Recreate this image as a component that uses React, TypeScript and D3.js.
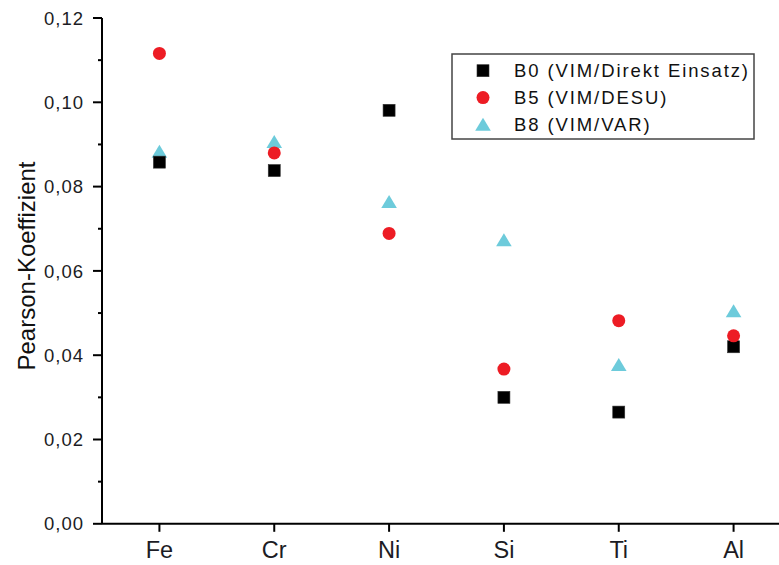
import React from "react";
import * as d3 from "d3";

const categories = ["Fe", "Cr", "Ni", "Si", "Ti", "Al"];
const seriesNames = ["B0 (VIM/Direkt Einsatz)", "B5 (VIM/DESU)", "B8 (VIM/VAR)"];
const b0 = [0.0858, 0.0838, 0.0981, 0.0300, 0.0265, 0.0420];
const b5 = [0.1116, 0.0880, 0.0689, 0.0367, 0.0482, 0.0446];
const b8 = [0.0883, 0.0906, 0.0764, 0.0673, 0.0377, 0.0505];
const yTicks = [0, 0.02, 0.04, 0.06, 0.08, 0.1, 0.12];
const yMinor = [0.01, 0.03, 0.05, 0.07, 0.09, 0.11];

const W = 779;
const H = 565;
const FONT = "'Liberation Sans', Arial, sans-serif";

const x = d3.scaleLinear().domain([0.5, 6.5]).range([102, 791]);
const y = d3.scaleLinear().domain([0, 0.12]).range([523.8, 18]);

const fmt = (v: number) => v.toFixed(2).replace(".", ",");

function Marker({ kind, cx, cy }: { kind: number; cx: number; cy: number }) {
  if (kind === 0) {
    return <rect x={cx - 6} y={cy - 6} width={12} height={12} fill="#000" stroke="#333" strokeWidth={0.6} />;
  }
  if (kind === 1) {
    return <circle cx={cx} cy={cy} r={6.5} fill="#ed1c24" />;
  }
  const p = d3.path();
  p.moveTo(cx, cy - 6.8);
  p.lineTo(cx + 7.8, cy + 6.2);
  p.lineTo(cx - 7.8, cy + 6.2);
  p.closePath();
  return <path d={p.toString()} fill="#6dcbdb" />;
}

export default function App() {
  const series = [b0, b5, b8];
  return (
    <svg width={W} height={H} style={{ position: "absolute", left: 0, top: 0, background: "#fff" }} fontFamily={FONT}>
      <rect width={W} height={H} fill="#fff" />
      {/* Y axis */}
      <line x1={102} x2={102} y1={y(0.12)} y2={y(0)} stroke="#000" strokeWidth={2} />
      {yTicks.map((t) => (
        <g key={"yt" + t}>
          <line x1={93} x2={102} y1={y(t)} y2={y(t)} stroke="#000" strokeWidth={2} />
          <text x={84} y={y(t)} dy="0.36em" textAnchor="end" fontSize={18.5} letterSpacing={1} fill="#1c1c24">
            {fmt(t)}
          </text>
        </g>
      ))}
      {yMinor.map((t) => (
        <line key={"ym" + t} x1={98} x2={102} y1={y(t)} y2={y(t)} stroke="#000" strokeWidth={2} />
      ))}
      {/* X axis */}
      <line x1={102} x2={W} y1={y(0)} y2={y(0)} stroke="#000" strokeWidth={2} />
      {categories.map((c, i) => (
        <g key={c}>
          <line x1={x(i + 1)} x2={x(i + 1)} y1={y(0)} y2={y(0) + 8} stroke="#000" strokeWidth={2} />
          <text x={x(i + 1)} y={558} textAnchor="middle" fontSize={23.5} fill="#1c1c24">
            {c}
          </text>
        </g>
      ))}
      {/* Y title */}
      <text transform={`translate(35,266) rotate(-90)`} textAnchor="middle" fontSize={24} fill="#111">
        Pearson-Koeffizient
      </text>
      {/* Points */}
      {[2, 0, 1].map((k) =>
        series[k].map((v, i) => <Marker key={k + "-" + i} kind={k} cx={x(i + 1)} cy={y(v)} />)
      )}
      {/* Legend */}
      <rect x={452} y={54} width={302} height={85} fill="#fff" stroke="#444" strokeWidth={1.5} />
      {seriesNames.map((n, k) => (
        <g key={n}>
          <Marker kind={k} cx={483} cy={70.7 + k * 26.9} />
          <text x={514} y={76.7 + k * 26.9} fontSize={18.5} letterSpacing={1.9} fill="#111">
            {n}
          </text>
        </g>
      ))}
    </svg>
  );
}
